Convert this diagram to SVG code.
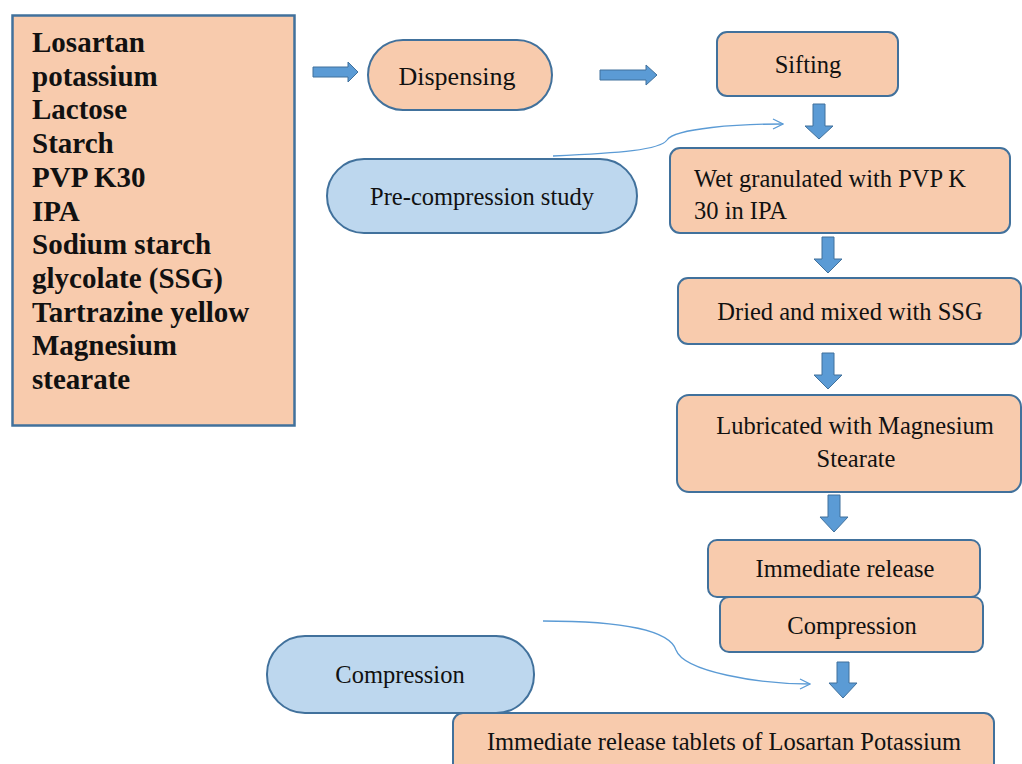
<svg xmlns="http://www.w3.org/2000/svg" width="1022" height="764" viewBox="0 0 1022 764">
<defs>
<style>
.box{fill:#F8CBAD;stroke:#41719C;stroke-width:2}
.pill{fill:#BDD7EE;stroke:#41719C;stroke-width:2}
.blk{fill:#5B9BD5;stroke:#41719C;stroke-width:1}
.cur{fill:none;stroke:#5B9BD5;stroke-width:1.3}
.t{font-family:"Liberation Serif","Times New Roman",serif;font-size:24.5px;fill:#111}
.c{text-anchor:middle}
.b{font-family:"Liberation Serif","Times New Roman",serif;font-size:29px;font-weight:bold;fill:#111}
</style>
<marker id="open" viewBox="0 0 12 12" refX="11" refY="6" markerWidth="12" markerHeight="12" markerUnits="userSpaceOnUse" orient="auto">
<path d="M1,1 L11,6 L1,11" fill="none" stroke="#5B9BD5" stroke-width="1.3"/>
</marker>
</defs>
<rect width="1022" height="764" fill="#fff"/>
<g id="ingredients">
<rect x="12.5" y="15.5" width="282" height="410" fill="#F8CBAD" stroke="#41719C" stroke-width="2.5"/>
<text class="b" x="32"><tspan x="32" y="52">Losartan</tspan><tspan x="32" y="86">potassium</tspan><tspan x="32" y="119">Lactose</tspan><tspan x="32" y="153">Starch</tspan><tspan x="32" y="187">PVP K30</tspan><tspan x="32" y="221">IPA</tspan><tspan x="32" y="254">Sodium starch</tspan><tspan x="32" y="288">glycolate (SSG)</tspan><tspan x="32" y="322">Tartrazine yellow</tspan><tspan x="32" y="355">Magnesium</tspan><tspan x="32" y="389">stearate</tspan></text>
</g>
<g id="dispensing">
<rect class="box" x="368" y="40" width="184" height="70" rx="35"/>
<text class="t c" x="457" y="85" style="font-size:26px">Dispensing</text>
</g>
<g id="sifting">
<rect class="box" x="717" y="32" width="181" height="64" rx="10"/>
<text class="t c" x="808" y="73">Sifting</text>
</g>
<g id="precompression">
<rect class="pill" x="327" y="159" width="310" height="74" rx="37"/>
<text class="t c" x="482" y="205">Pre-compression study</text>
</g>
<g id="wet">
<rect class="box" x="670" y="148" width="340" height="85" rx="10"/>
<text class="t" x="694" y="187">Wet granulated with PVP K</text>
<text class="t" x="694" y="219">30 in IPA</text>
</g>
<g id="dried">
<rect class="box" x="678" y="278" width="343" height="66" rx="10"/>
<text class="t c" x="850" y="320">Dried and mixed with SSG</text>
</g>
<g id="lubricated">
<rect class="box" x="677" y="395" width="344" height="97" rx="12"/>
<text class="t c" x="855" y="434">Lubricated with Magnesium</text>
<text class="t c" x="856" y="467">Stearate</text>
</g>
<g id="immediate">
<rect class="box" x="708" y="540" width="272" height="57" rx="9"/>
<text class="t c" x="845" y="577">Immediate release</text>
</g>
<g id="compressionbox">
<rect class="box" x="720" y="597" width="263" height="55" rx="9"/>
<text class="t c" x="852" y="634">Compression</text>
</g>
<g id="compressionpill">
<rect class="pill" x="267" y="636" width="267" height="77" rx="38"/>
<text class="t c" x="400" y="683">Compression</text>
</g>
<g id="final">
<rect class="box" x="453" y="713" width="541" height="70" rx="10"/>
<text class="t c" x="724" y="750">Immediate release tablets of Losartan Potassium</text>
</g>
<g id="connectors">
<path class="blk" d="M313,67 H348 V62 L358,72 L348,82 V77 H313 Z"/>
<path class="blk" d="M600,70 H646 V65 L657,75 L646,85 V80 H600 Z"/>
<path class="blk" d="M813,104 H825 V126 H833 L819,139 L805,126 H813 Z"/>
<path class="blk" d="M822,237 H834 V259 H842 L828,273 L814,259 H822 Z"/>
<path class="blk" d="M822,353 H834 V375 H842 L828,389 L814,375 H822 Z"/>
<path class="blk" d="M828,495 H840 V517 H848 L834,532 L820,517 H828 Z"/>
<path class="blk" d="M837,662 H849 V683 H857 L843,698 L829,683 H837 Z"/>
<path class="cur" d="M553,156 C620,153 660,150 667,140 C675,128 740,124 783,124" marker-end="url(#open)"/>
<path class="cur" d="M543,621 C630,621 670,632 676,650 C684,672 760,684 810,684" marker-end="url(#open)"/>
</g>
</svg>
